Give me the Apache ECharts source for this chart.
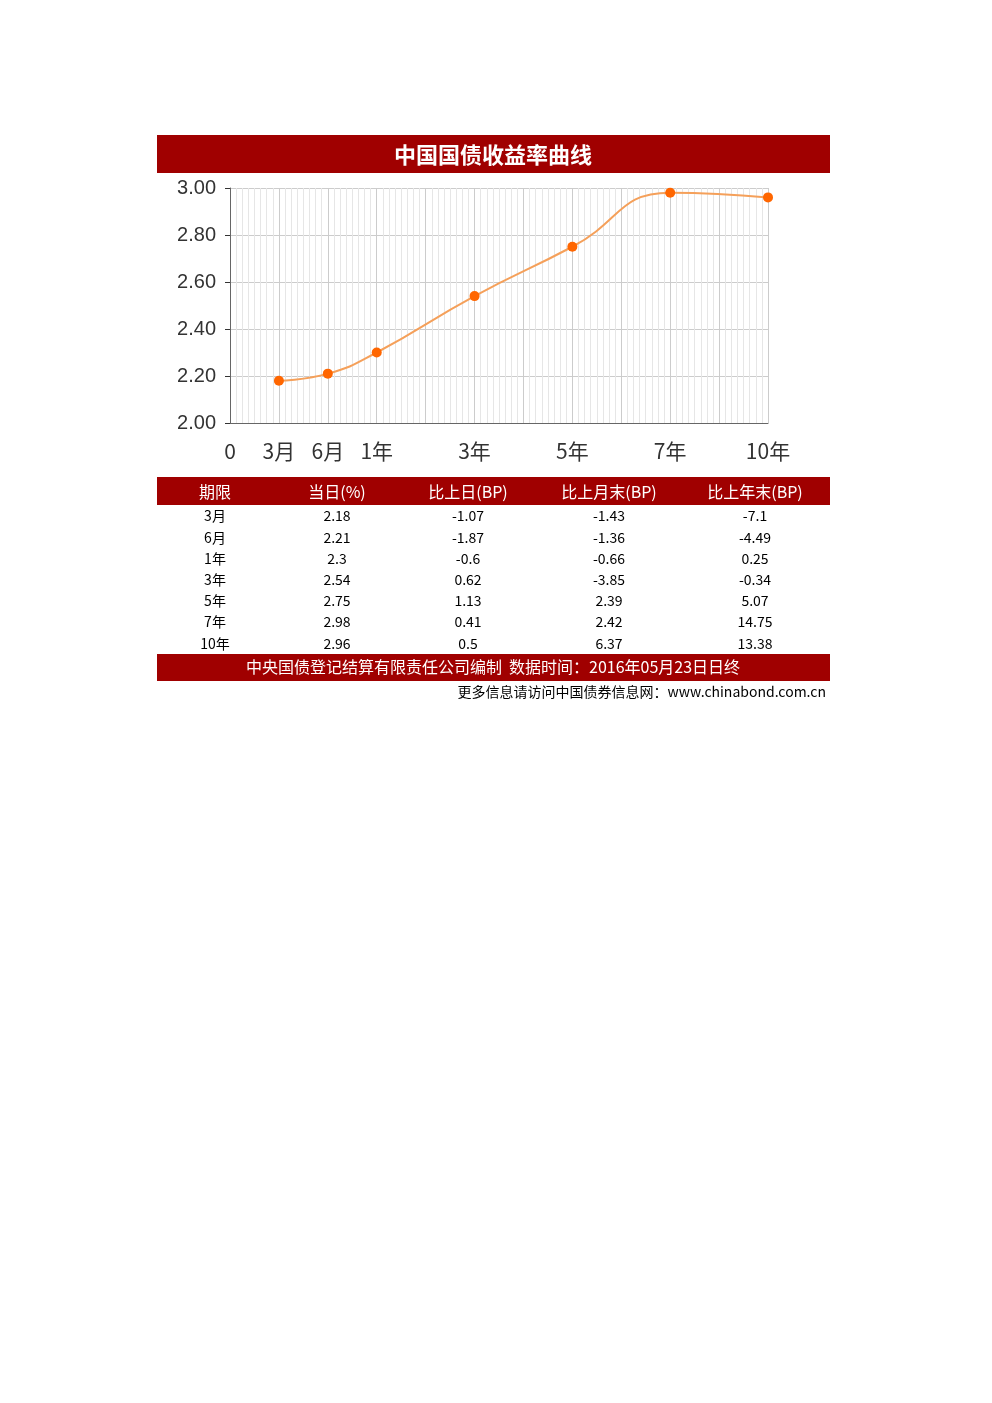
<!DOCTYPE html>
<html><head><meta charset="utf-8">
<script src="https://cdn.jsdelivr.net/npm/echarts@6/dist/echarts.min.js"></script>
<style>html,body{margin:0;padding:0;background:#fff}#c{width:992px;height:1403px}</style>
</head><body><div id="c"></div>
<script>
const title = '中国国债收益率曲线';
const tickLabels = {0:'0',1:'3月',2:'6月',3:'1年',5:'3年',7:'5年',9:'7年',11:'10年'};
const xPos = [1,2,3,5,7,9,11];
const yields = [2.18,2.21,2.30,2.54,2.75,2.98,2.96];
const headers = ['期限','当日(%)','比上日(BP)','比上月末(BP)','比上年末(BP)'];
const terms = ['3月','6月','1年','3年','5年','7年','10年'];
const todayCol = ['2.18','2.21','2.3','2.54','2.75','2.98','2.96'];
const dayCol = ['-1.07','-1.87','-0.6','0.62','1.13','0.41','0.5'];
const monthCol = ['-1.43','-1.36','-0.66','-3.85','2.39','2.42','6.37'];
const yearCol = ['-7.1','-4.49','0.25','-0.34','5.07','14.75','13.38'];
const footer = '中央国债登记结算有限责任公司编制  数据时间：2016年05月23日日终';
const link = '更多信息请访问中国债券信息网：www.chinabond.com.cn';

const red = '#a00000';
const colX = [215,337,468,609,755];
const rowY0 = 516, rowH = 21.2;
const g = [
  {type:'rect',shape:{x:157,y:135,width:673,height:38},style:{fill:red}},
  {type:'text',x:493,y:155,style:{text:title,fill:'#fff',font:'bold 22px "Noto Sans CJK SC"',align:'center',verticalAlign:'middle'}},
  {type:'rect',shape:{x:157,y:477,width:673,height:28},style:{fill:red}},
  {type:'rect',shape:{x:157,y:654,width:673,height:27},style:{fill:red}},
  {type:'text',x:493,y:667,style:{text:footer,fill:'#fff',font:'16px "Noto Sans CJK SC"',align:'center',verticalAlign:'middle'}},
  {type:'text',x:826,y:692,style:{text:link,fill:'#000',font:'14px "Noto Sans CJK SC"',align:'right',verticalAlign:'middle'}}
];
headers.forEach((h,i)=>g.push({type:'text',x:colX[i],y:492,style:{text:h,fill:'#fff',font:'16px "Noto Sans CJK SC"',align:'center',verticalAlign:'middle'}}));
[terms,todayCol,dayCol,monthCol,yearCol].forEach((col,i)=>col.forEach((v,r)=>g.push({type:'text',x:colX[i],y:rowY0+r*rowH,style:{text:v,fill:'#000',font:'14px "Noto Sans CJK SC"',align:'center',verticalAlign:'middle'}})));

const chart = echarts.init(document.getElementById('c'));
chart.setOption({
  animation:false,
  grid:{left:230,top:188,width:538,height:235},
  xAxis:{type:'value',min:0,max:11,interval:1,
    axisLine:{lineStyle:{color:'#666'}},axisTick:{show:false},
    axisLabel:{formatter:v=>tickLabels[v]||'',fontSize:21,color:'#333',margin:18,fontFamily:'"Noto Sans CJK SC"'},
    splitLine:{show:true,lineStyle:{color:'#ccc'}},
    minorTick:{show:false,splitNumber:8},minorSplitLine:{show:true,lineStyle:{color:'#e6e6e6'}}},
  yAxis:{type:'value',min:2,max:3,interval:0.2,
    axisLine:{show:true,lineStyle:{color:'#666'}},axisTick:{show:true,length:5,lineStyle:{color:'#333'}},
    axisLabel:{formatter:v=>v.toFixed(2),fontSize:20,color:'#333',margin:14},
    splitLine:{lineStyle:{color:'#ccc'}}},
  series:[{type:'line',data:xPos.map((x,i)=>[x,yields[i]]),smooth:0.5,
    symbol:'circle',symbolSize:10,itemStyle:{color:'#ff6600'},lineStyle:{color:'#f5a05a',width:2}}],
  graphic:g
});
</script></body></html>
